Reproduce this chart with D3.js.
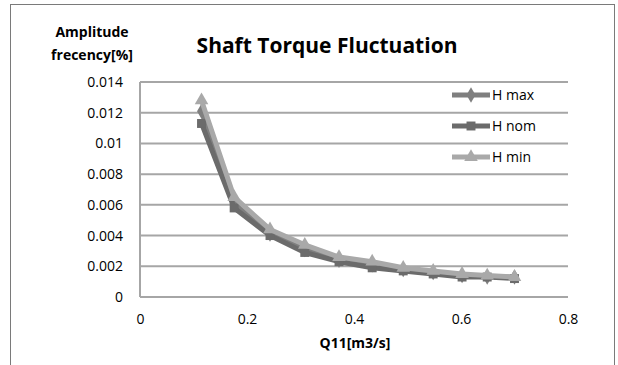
<!DOCTYPE html>
<html>
<head>
<meta charset="utf-8">
<script src="https://cdn.jsdelivr.net/npm/d3@7"></script>
<style>
  body { margin: 0; background: #fff; }
  text { font-family: "Open Sans", "Liberation Sans", sans-serif; fill: #000; }
</style>
</head>
<body>
<script>
// chart data
var q11 = [0.115, 0.176, 0.243, 0.308, 0.372, 0.434, 0.492, 0.548, 0.602, 0.649, 0.700];
var hMax = [0.0121, 0.0061, 0.0041, 0.0031, 0.0024, 0.0021, 0.0018, 0.0016, 0.0014, 0.0013, 0.0013];
var hNom = [0.0113, 0.0058, 0.0040, 0.0029, 0.0023, 0.0019, 0.0017, 0.0015, 0.0013, 0.0013, 0.0012];
var hMin = [0.0128, 0.0065, 0.0044, 0.0034, 0.0026, 0.0023, 0.0019, 0.0017, 0.0015, 0.0014, 0.0013];
var xTicks = [0, 0.2, 0.4, 0.6, 0.8];
var yTicks = [0, 0.002, 0.004, 0.006, 0.008, 0.01, 0.012, 0.014];
var seriesNames = ['H max', 'H nom', 'H min'];

var width = 618, height = 365;

var svg = d3.select('body').append('svg')
    .attr('width', width)
    .attr('height', height);

// outer chart frame
svg.append('rect')
    .attr('x', 10.5).attr('y', 4.5)
    .attr('width', 604).attr('height', 380)
    .attr('fill', '#fff')
    .attr('stroke', '#7a7a7a');

var x = d3.scaleLinear().domain([0, 0.8]).range([140, 568]);
var y = d3.scaleLinear().domain([0, 0.014]).range([297, 82]);

// gridlines
svg.append('g').selectAll('line')
    .data(yTicks)
    .enter().append('line')
    .attr('x1', x(0)).attr('x2', x(0.8))
    .attr('y1', function(d) { return y(d); })
    .attr('y2', function(d) { return y(d); })
    .attr('stroke', '#a6a6a6')
    .attr('stroke-width', 2);

// left axis line
svg.append('line')
    .attr('x1', x(0)).attr('x2', x(0))
    .attr('y1', y(0.014)).attr('y2', y(0))
    .attr('stroke', '#a6a6a6')
    .attr('stroke-width', 2);

// tick labels via d3 axes, without domain / tick marks
var yAxis = svg.append('g')
    .attr('transform', 'translate(' + (x(0) - 17) + ',0)')
    .call(d3.axisLeft(y).tickValues(yTicks).tickSize(0).tickPadding(0)
        .tickFormat(function(d) { return d === 0 ? '0' : String(+d.toFixed(3)); }));
yAxis.select('.domain').remove();
yAxis.selectAll('text').attr('font-size', 14).style('font-family', '"Open Sans", sans-serif');

var xAxis = svg.append('g')
    .attr('transform', 'translate(0,' + (y(0) + 17) + ')')
    .call(d3.axisBottom(x).tickValues(xTicks).tickSize(0).tickPadding(0)
        .tickFormat(function(d) { return d === 0 ? '0' : String(d); }));
xAxis.select('.domain').remove();
xAxis.selectAll('text').attr('font-size', 14).style('font-family', '"Open Sans", sans-serif');

// series
var series = [
    { name: seriesNames[0], values: hMax, color: '#7f7f7f', symbol: d3.symbolDiamond, size: 70 },
    { name: seriesNames[1], values: hNom, color: '#6b6b6b', symbol: d3.symbolSquare, size: 80 },
    { name: seriesNames[2], values: hMin, color: '#a9a9a9', symbol: d3.symbolTriangle, size: 80 }
];

var line = d3.line()
    .x(function(d) { return x(d[0]); })
    .y(function(d) { return y(d[1]); });

series.forEach(function(s) {
    var pts = q11.map(function(q, i) { return [q, s.values[i]]; });
    svg.append('path')
        .datum(pts)
        .attr('d', line)
        .attr('fill', 'none')
        .attr('stroke', s.color)
        .attr('stroke-width', 5)
        .attr('stroke-linejoin', 'round');
    svg.append('g').selectAll('path')
        .data(pts)
        .enter().append('path')
        .attr('transform', function(d) { return 'translate(' + x(d[0]) + ',' + y(d[1]) + ')'; })
        .attr('d', d3.symbol().type(s.symbol).size(s.size))
        .attr('fill', s.color);
});

// legend
var legend = svg.append('g').selectAll('g')
    .data(series)
    .enter().append('g')
    .attr('transform', function(d, i) { return 'translate(452,' + (95 + i * 31) + ')'; });
legend.append('line')
    .attr('x1', 0).attr('x2', 38)
    .attr('stroke', function(d) { return d.color; })
    .attr('stroke-width', 5);
legend.append('path')
    .attr('transform', 'translate(19,0)')
    .attr('d', function(d) { return d3.symbol().type(d.symbol).size(d.size)(); })
    .attr('fill', function(d) { return d.color; });
legend.append('text')
    .attr('x', 40).attr('dy', '0.35em')
    .attr('font-size', 14)
    .text(function(d) { return d.name; });

// titles
svg.append('text')
    .attr('x', 327).attr('y', 53)
    .attr('text-anchor', 'middle')
    .attr('font-size', 21).attr('font-weight', 'bold')
    .text('Shaft Torque Fluctuation');

svg.append('text')
    .attr('x', 92).attr('y', 37)
    .attr('text-anchor', 'middle')
    .attr('font-size', 14).attr('font-weight', 'bold')
    .text('Amplitude');
svg.append('text')
    .attr('x', 92).attr('y', 60)
    .attr('text-anchor', 'middle')
    .attr('font-size', 14).attr('font-weight', 'bold')
    .text('frecency[%]');

svg.append('text')
    .attr('x', 355).attr('y', 348)
    .attr('text-anchor', 'middle')
    .attr('font-size', 14).attr('font-weight', 'bold')
    .text('Q11[m3/s]');
</script>
</body>
</html>
